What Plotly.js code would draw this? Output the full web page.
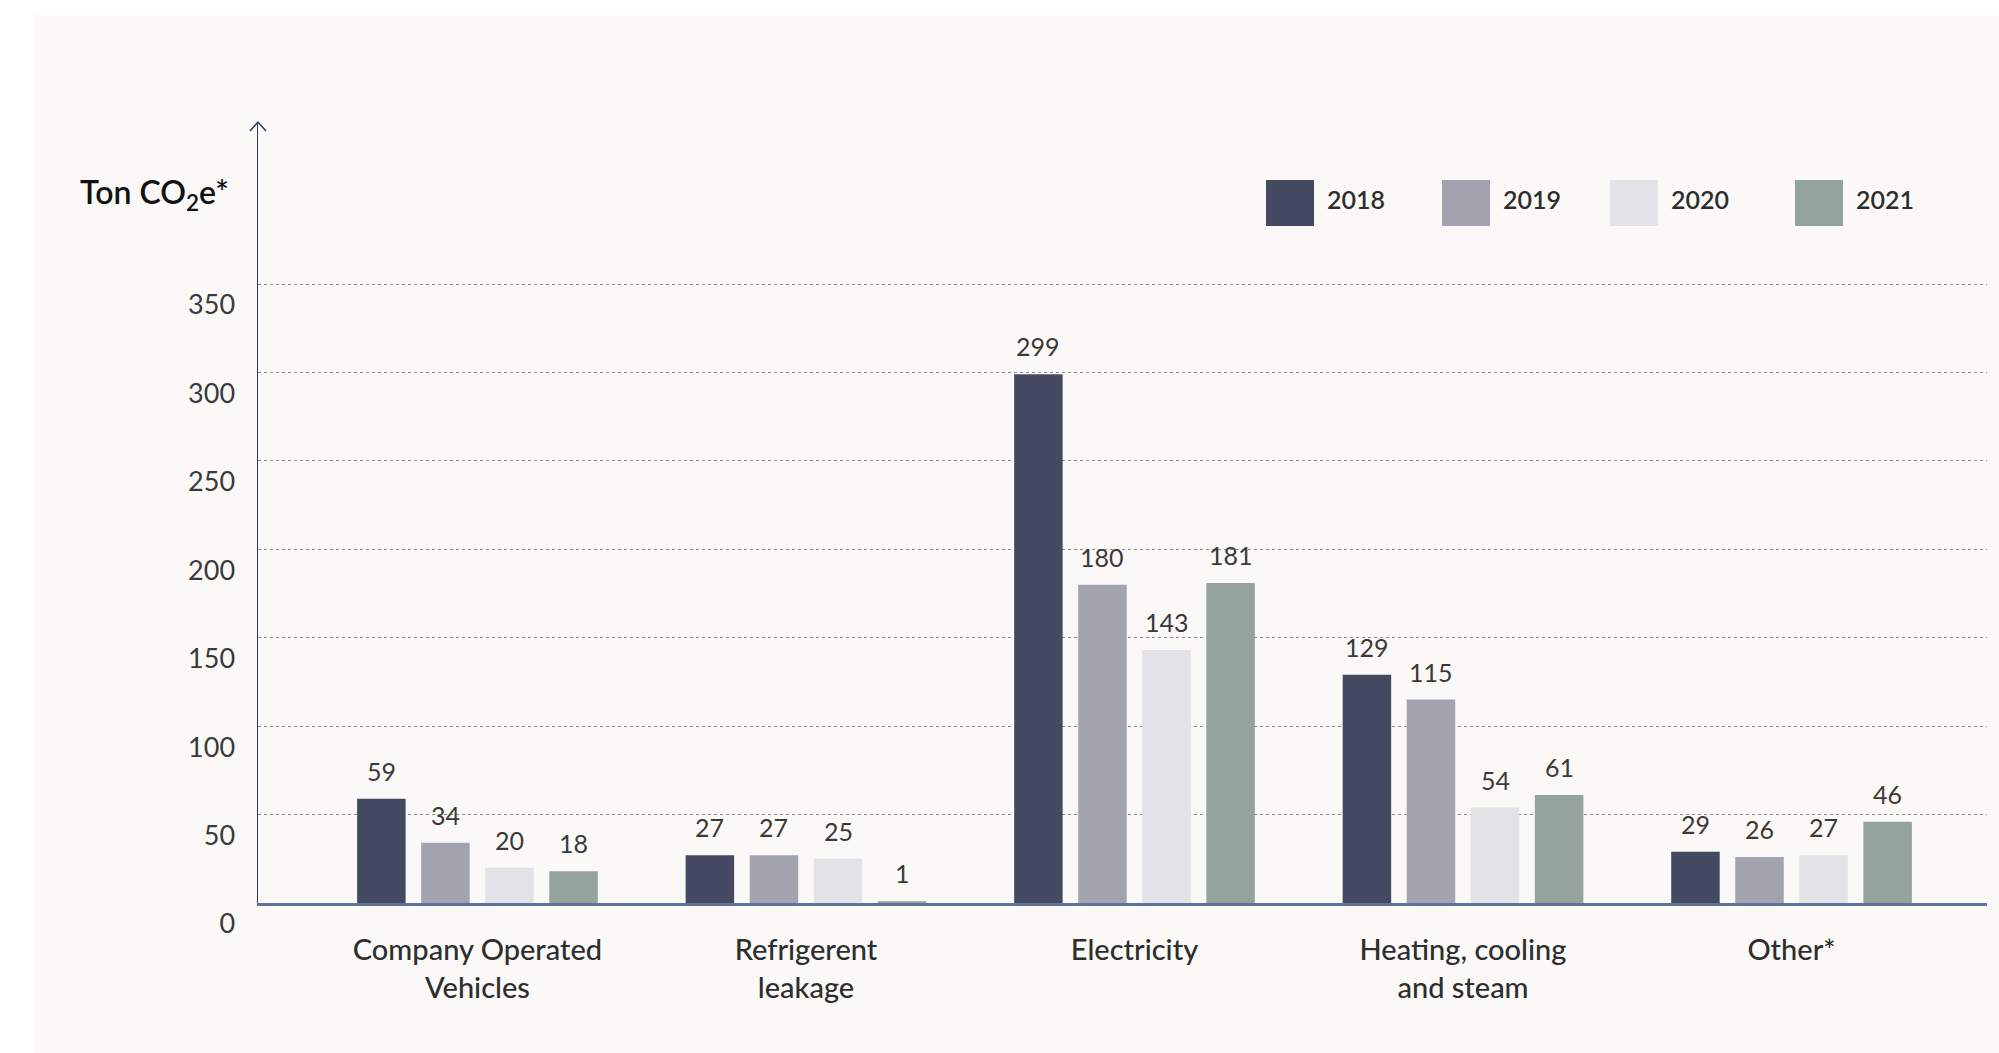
<!DOCTYPE html>
<html>
<head>
<meta charset="utf-8">
<script src="https://cdn.plot.ly/plotly-3.0.1.min.js"></script>
<style>
  html, body { margin: 0; padding: 0; background: #ffffff; }
  #panel { position: absolute; left: 34px; top: 15px; right: 0; bottom: 0; background: #faf9f7; }
  #chart { position: absolute; left: 0; top: 0; width: 1999px; height: 1053px; }
</style>
</head>
<body>
<div id="panel"></div>
<div id="chart"></div>
<script>
// Emissions by source, tonnes CO2e
const categories = ["Company Operated<br>Vehicles", "Refrigerent<br>leakage", "Electricity", "Heating, cooling<br>and steam", "Other*"];
const years = ["2018", "2019", "2020", "2021"];
const v2018 = [59, 27, 299, 129, 29];
const v2019 = [34, 27, 180, 115, 26];
const v2020 = [20, 25, 143, 54, 27];
const v2021 = [18, 1, 181, 61, 46];
const yTicks = [0, 50, 100, 150, 200, 250, 300, 350];

const series = [v2018, v2019, v2020, v2021];
const colors = ["#454a62", "#a2a3af", "#e2e2e7", "#94a39c"];

const W = 1999, H = 1053;
const margin = { l: 258, r: 12, t: 122, b: 150 };
const plotW = W - margin.l - margin.r;
const plotH = H - margin.t - margin.b;
const xRange = [-0.668, 4.595];
const yRange = [0, 441.6];
const FONT = 'Lato, "Open Sans", sans-serif';

const bargap = 0.22, bargroupgap = 0.243;
const pxPerCat = plotW / (xRange[1] - xRange[0]);
const slotPx = (1 - bargap) / series.length * pxPerCat;

// pixel -> paper helpers for decorations
const px = x => (x - margin.l) / plotW;
const py = y => (H - margin.b - y) / plotH;

const traces = series.map((vals, i) => ({
  type: 'bar',
  name: years[i],
  x: categories,
  y: vals,
  marker: { color: colors[i], line: { width: 0 } },
  hoverinfo: 'x+y+name',
  showlegend: false
}));

// value labels above each bar
const annotations = [];
series.forEach((vals, i) => {
  vals.forEach((v, j) => {
    annotations.push({
      x: categories[j], y: v, xref: 'x', yref: 'y',
      xshift: (i - (series.length - 1) / 2) * slotPx,
      yshift: 28,
      text: String(v), showarrow: false,
      font: { family: FONT, size: 25, color: '#3a3a3a' }
    });
  });
});

// unit label
annotations.push({
  xref: 'paper', yref: 'paper', x: px(78), y: py(194),
  xanchor: 'left', yanchor: 'middle',
  text: 'Ton CO<sub>2</sub>e*', showarrow: false,
  font: { family: FONT, size: 32, color: '#111111', weight: 600 }
});

// legend: swatch + year
const legendX = [1266, 1442, 1610, 1795];
const shapes = [];
years.forEach((yr, i) => {
  shapes.push({
    type: 'rect', xref: 'paper', yref: 'paper', layer: 'above',
    x0: px(legendX[i]), x1: px(legendX[i] + 48),
    y0: py(226), y1: py(180),
    fillcolor: colors[i], line: { width: 0 }
  });
  annotations.push({
    xref: 'paper', yref: 'paper', x: px(legendX[i] + 59), y: py(199),
    xanchor: 'left', yanchor: 'middle', text: yr, showarrow: false,
    font: { family: FONT, size: 25, color: '#2e2e2e', weight: 600 }
  });
});

// arrow head on the value axis
const ax = px(258), atop = 1;
const dx = 8 / plotW, dy = 9 / plotH;
shapes.push({ type: 'line', xref: 'paper', yref: 'paper', x0: ax - dx, y0: atop - dy, x1: ax, y1: atop, line: { color: '#2b3d6b', width: 1.5 } });
shapes.push({ type: 'line', xref: 'paper', yref: 'paper', x0: ax + dx, y0: atop - dy, x1: ax, y1: atop, line: { color: '#2b3d6b', width: 1.5 } });

const layout = {
  width: W, height: H,
  margin: margin,
  paper_bgcolor: 'rgba(0,0,0,0)',
  plot_bgcolor: 'rgba(0,0,0,0)',
  barmode: 'group',
  bargap: bargap,
  bargroupgap: bargroupgap,
  showlegend: false,
  font: { family: FONT },
  xaxis: {
    type: 'category',
    range: xRange,
    showgrid: false, zeroline: false,
    showline: true, linecolor: '#62739a', linewidth: 2.5,
    ticks: '',
    ticklabelstandoff: 20,
    tickfont: { family: FONT, size: 29, color: '#2e2e2e', weight: 500 },
    fixedrange: true
  },
  yaxis: {
    range: yRange,
    tickmode: 'array', tickvals: yTicks, ticktext: yTicks.map(String),
    showgrid: true, gridcolor: '#8c8c8c', gridwidth: 1, griddash: 'dot',
    zeroline: false,
    showline: true, linecolor: '#2b3d6b', linewidth: 1.5,
    ticks: '',
    ticklabelshift: 21,
    ticklabelstandoff: 16,
    tickfont: { family: FONT, size: 27, color: '#3a3a3a' },
    fixedrange: true
  },
  annotations: annotations,
  shapes: shapes
};

Plotly.newPlot('chart', traces, layout, { staticPlot: true, displayModeBar: false });
</script>
</body>
</html>
